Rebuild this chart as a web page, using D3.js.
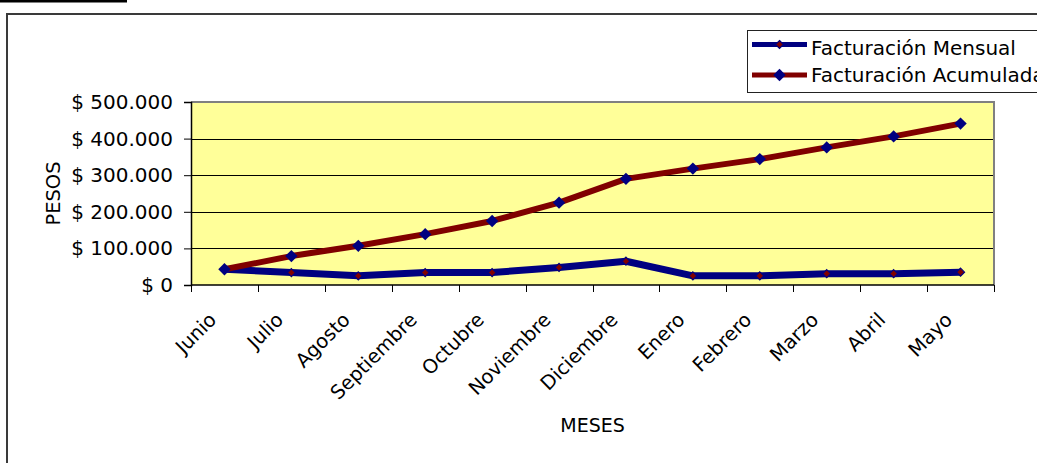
<!DOCTYPE html>
<html>
<head>
<meta charset="utf-8">
<script src="https://cdn.jsdelivr.net/npm/d3@7"></script>
<style>
  html, body { margin: 0; padding: 0; background: #fff; }
  svg { display: block; font-family: "DejaVu Sans", Verdana, sans-serif; }
</style>
</head>
<body>
<svg id="chart" width="1037" height="463"></svg>
<script>
// Monthly and cumulative billing, June to May
const months = ["Junio", "Julio", "Agosto", "Septiembre", "Octubre", "Noviembre",
                "Diciembre", "Enero", "Febrero", "Marzo", "Abril", "Mayo"];
const mensual = [43000, 34000, 25000, 34000, 34000, 48000, 65000, 25000, 25000, 31000, 31000, 35000];
const acumulada = [43000, 79000, 107000, 139000, 175000, 225000, 290000, 318000, 344000, 376000, 406000, 441000];
const yTicks = [0, 100000, 200000, 300000, 400000, 500000];
const seriesNames = ["Facturación Mensual", "Facturación Acumulada"];

const NAVY = "#000080", MAROON = "#800000";
const svg = d3.select("#chart");

const plot = { left: 191, right: 994, top: 102, bottom: 285 };
const x = d3.scaleBand().domain(months).range([plot.left, plot.right]);
const cx = m => x(m) + x.bandwidth() / 2;
const y = d3.scaleLinear().domain([0, 500000]).range([plot.bottom, plot.top]);

const locale = d3.formatLocale({ decimal: ",", thousands: ".", grouping: [3], currency: ["$ ", ""] });
const fmt = locale.format("$,");

// page rule and chart frame
svg.append("rect").attr("x", 0).attr("y", 0).attr("width", 127).attr("height", 2.5).attr("fill", "#000");
svg.append("rect").attr("x", 7).attr("y", 14).attr("width", 1100).attr("height", 600)
  .attr("fill", "none").attr("stroke", "#3a3a3a").attr("stroke-width", 2);

// plot area
svg.append("rect").attr("x", plot.left).attr("y", plot.top)
  .attr("width", plot.right - plot.left).attr("height", plot.bottom - plot.top)
  .attr("fill", "#FFFF99");

// gridlines
svg.append("g").selectAll("line").data(yTicks.filter(v => v > 0 && v < 500000)).join("line")
  .attr("x1", plot.left).attr("x2", plot.right)
  .attr("y1", d => Math.round(y(d)) + 0.5).attr("y2", d => Math.round(y(d)) + 0.5)
  .attr("stroke", "#000").attr("stroke-width", 1);

// plot border (top / right)
svg.append("path")
  .attr("d", `M${plot.left},${plot.top} H${plot.right} V${plot.bottom}`)
  .attr("fill", "none").attr("stroke", "#808080").attr("stroke-width", 2);

// y axis
const yAxis = svg.append("g").attr("transform", `translate(${plot.left},0)`)
  .call(d3.axisLeft(y).tickValues(yTicks).tickFormat(fmt).tickSize(7).tickPadding(11));
yAxis.select(".domain").attr("stroke", "#000").attr("stroke-width", 1.5);
yAxis.selectAll(".tick line").attr("stroke", "#000");
yAxis.selectAll("text").attr("font-size", 20).attr("fill", "#000")
  .attr("font-family", "DejaVu Sans, Verdana, sans-serif");

// x axis: ticks on category boundaries
const xg = svg.append("g");
xg.append("line").attr("x1", plot.left).attr("x2", plot.right)
  .attr("y1", plot.bottom).attr("y2", plot.bottom).attr("stroke", "#000").attr("stroke-width", 1.5);
const bounds = months.map(m => x(m)).concat([x(months[months.length - 1]) + x.bandwidth()]);
xg.selectAll("line.tk").data(bounds).join("line").attr("class", "tk")
  .attr("x1", d => Math.round(d) + 0.5).attr("x2", d => Math.round(d) + 0.5)
  .attr("y1", plot.bottom).attr("y2", plot.bottom + 7).attr("stroke", "#000");
xg.selectAll("text").data(months).join("text")
  .attr("transform", d => `translate(${cx(d) - 7},321) rotate(-45)`)
  .attr("text-anchor", "end").attr("font-size", 19.5).attr("fill", "#000")
  .text(d => d);

// axis titles
svg.append("text").attr("x", (plot.left + plot.right) / 2).attr("y", 432)
  .attr("text-anchor", "middle").attr("font-size", 19).text("MESES");
svg.append("text").attr("transform", `translate(60,${(plot.top + plot.bottom) / 2}) rotate(-90)`)
  .attr("text-anchor", "middle").attr("font-size", 19.5).text("PESOS");

// series
const line = d3.line().x((d, i) => cx(months[i])).y(d => y(d));
const diamond = r => `M0,${-r}L${r},0L0,${r}L${-r},0Z`;

svg.append("path").datum(mensual).attr("d", line)
  .attr("fill", "none").attr("stroke", NAVY).attr("stroke-width", 7).attr("stroke-linejoin", "round");
svg.append("g").selectAll("path").data(mensual).join("path")
  .attr("transform", (d, i) => `translate(${cx(months[i])},${y(d)})`)
  .attr("d", diamond(4)).attr("fill", MAROON).attr("stroke", NAVY).attr("stroke-width", 1.2);

svg.append("path").datum(acumulada).attr("d", line)
  .attr("fill", "none").attr("stroke", MAROON).attr("stroke-width", 6).attr("stroke-linejoin", "round");
svg.append("g").selectAll("path").data(acumulada).join("path")
  .attr("transform", (d, i) => `translate(${cx(months[i])},${y(d)})`)
  .attr("d", diamond(6.2)).attr("fill", NAVY);

// legend
const lg = svg.append("g");
lg.append("rect").attr("x", 747.5).attr("y", 30.5).attr("width", 320).attr("height", 62)
  .attr("fill", "#fff").attr("stroke", "#222").attr("stroke-width", 1);
const rows = [
  { name: seriesNames[0], stroke: NAVY, mFill: MAROON, mR: 4, cy: 44.5, base: 55 },
  { name: seriesNames[1], stroke: MAROON, mFill: NAVY, mR: 6.2, cy: 75, base: 82 }
];
rows.forEach(r => {
  lg.append("line").attr("x1", 752).attr("x2", 807).attr("y1", r.cy).attr("y2", r.cy)
    .attr("stroke", r.stroke).attr("stroke-width", 5);
  lg.append("path").attr("transform", `translate(779.5,${r.cy})`).attr("d", diamond(r.mR))
    .attr("fill", r.mFill).attr("stroke", r.mR < 5 ? NAVY : "none").attr("stroke-width", 1.2);
  lg.append("text").attr("x", 811).attr("y", r.base).attr("font-size", 20).text(r.name);
});
</script>
</body>
</html>
